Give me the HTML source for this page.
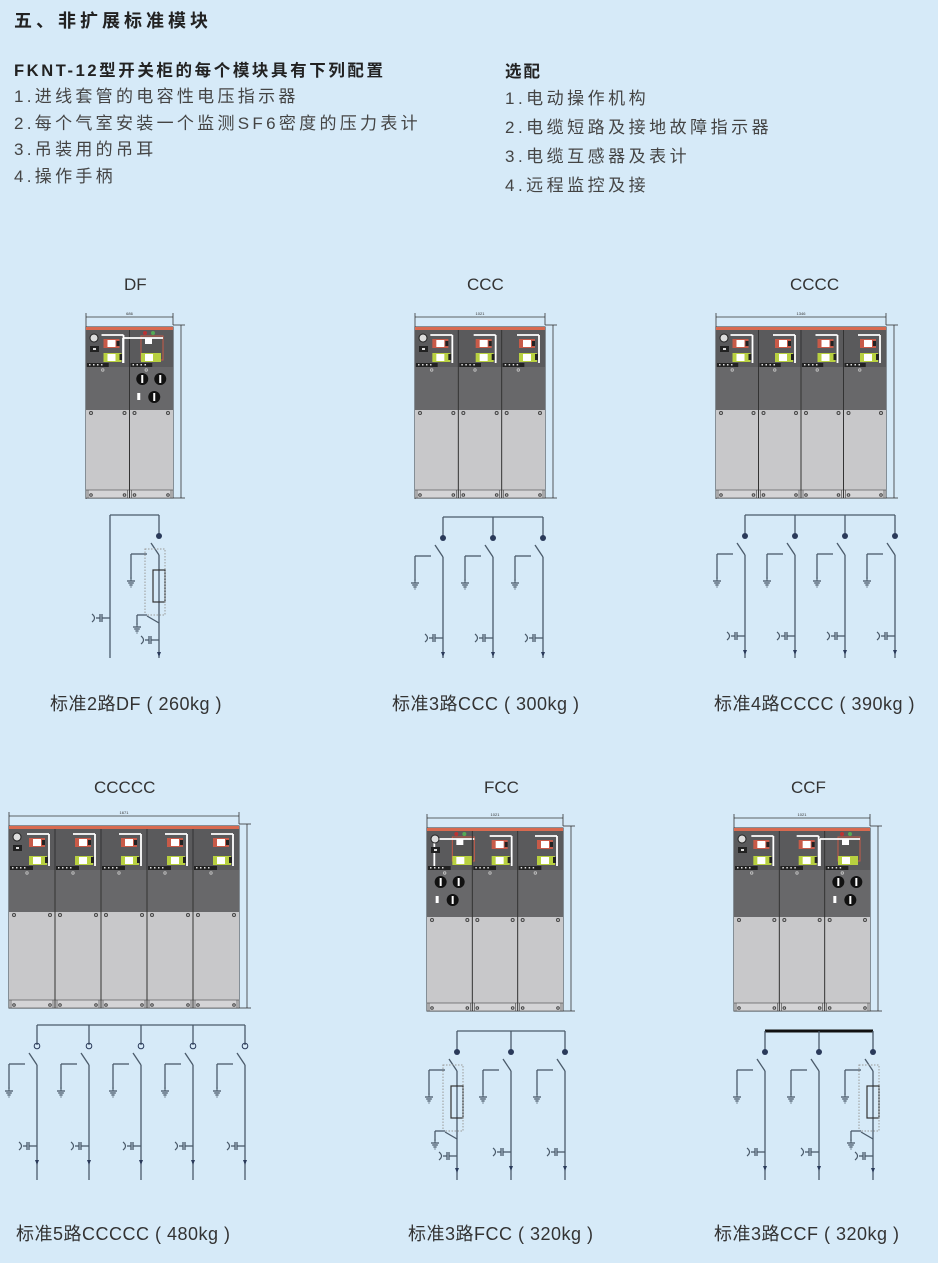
<!DOCTYPE html>
<html><head><meta charset="utf-8">
<style>
body{margin:0;background:#d6eaf8;}
#w{position:relative;width:938px;height:1263px;overflow:hidden;background:#d6eaf8;font-family:"Liberation Sans","Noto Sans CJK SC",sans-serif;color:#333;}
.t{position:absolute;white-space:nowrap;}
.cap{font-size:18px;letter-spacing:0.5px}
svg{position:absolute;left:0;top:0;}
</style></head><body><div id="w">
<svg id="s" width="938" height="1263" viewBox="0 0 938 1263"></svg>
<div class="t" style="left:14px;top:7px;font-size:18px;font-weight:bold;color:#222;letter-spacing:4px">五、非扩展标准模块</div>
<div class="t" style="left:14px;top:57px;font-size:16.5px;font-weight:bold;color:#222;letter-spacing:2.6px">FKNT-12型开关柜的每个模块具有下列配置</div>
<div class="t" style="left:14px;top:84px;font-size:17px;line-height:26.5px;color:#444;letter-spacing:3.3px">1.进线套管的电容性电压指示器<br>2.每个气室安装一个监测SF6密度的压力表计<br>3.吊装用的吊耳<br>4.操作手柄</div>
<div class="t" style="left:505px;top:58px;font-size:16.5px;font-weight:bold;color:#222;letter-spacing:2px">选配</div>
<div class="t" style="left:505px;top:84px;font-size:17px;line-height:29px;color:#444;letter-spacing:3.5px">1.电动操作机构<br>2.电缆短路及接地故障指示器<br>3.电缆互感器及表计<br>4.远程监控及接</div>
<div class="t" style="left:124px;top:275px;font-size:17px">DF</div>
<div class="t" style="left:467px;top:275px;font-size:17px">CCC</div>
<div class="t" style="left:790px;top:275px;font-size:17px">CCCC</div>
<div class="t" style="left:94px;top:778px;font-size:17px">CCCCC</div>
<div class="t" style="left:484px;top:778px;font-size:17px">FCC</div>
<div class="t" style="left:791px;top:778px;font-size:17px">CCF</div>
<div class="t cap" style="left:50px;top:690px">标准2路DF ( 260kg )</div>
<div class="t cap" style="left:392px;top:690px">标准3路CCC ( 300kg )</div>
<div class="t cap" style="left:714px;top:690px">标准4路CCCC ( 390kg )</div>
<div class="t cap" style="left:16px;top:1220px">标准5路CCCCC ( 480kg )</div>
<div class="t cap" style="left:408px;top:1220px">标准3路FCC ( 320kg )</div>
<div class="t cap" style="left:714px;top:1220px">标准3路CCF ( 320kg )</div>
</div>
<script>
var s=document.getElementById('s'),h='';
function R(x,y,w,hh,f,st,sw){h+='<rect x="'+x+'" y="'+y+'" width="'+w+'" height="'+hh+'" fill="'+f+'"'+(st?' stroke="'+st+'" stroke-width="'+(sw||1)+'"':'')+'/>';}
function L(x1,y1,x2,y2,c,w,d){h+='<line x1="'+x1+'" y1="'+y1+'" x2="'+x2+'" y2="'+y2+'" stroke="'+(c||'#4a5a6a')+'" stroke-width="'+(w||1.3)+'"'+(d?' stroke-dasharray="'+d+'"':'')+'/>';}
function C(x,y,r,f,st){h+='<circle cx="'+x+'" cy="'+y+'" r="'+r+'" fill="'+f+'"'+(st?' stroke="'+st+'"':'')+'/>';}
function cab(x,y,w,n,t1,t2,t3,lab,fl,fr){
  var cw=w/n;
  L(x,y-10,x+w,y-10,'#333',0.8);L(x,y-14,x,y+172,'#333',0.8);L(x+w,y-14,x+w,y-2,'#333',0.8);
  L(x+w+8,y-2,x+w+8,y+t3+8,'#333',0.8);L(x+w,y-2,x+w+12,y-2,'#333',0.8);L(x+w,y+t3+8,x+w+12,y+t3+8,'#333',0.8);
  h+='<text x="'+(x+w/2)+'" y="'+(y-12)+'" font-size="4" text-anchor="middle" fill="#333">'+lab+'</text>';
  R(x,y,w,t3+8,'#555','#333',1);
  R(x,y,w,3,'#d86a50');
  R(x,y+3,w,t1-3,'#5a5a5c');
  R(x,y+t1,w,t2-t1,'#68686a');
  R(x,y+t2,w,t3-t2,'#c8c8ca');
  R(x,y+t3,w,8,'#d4d4d6','#444',0.6);
  for(var i=0;i<n;i++){
    var cx=x+i*cw;
    if(i>0)L(cx,y+3,cx,y+t3+8,'#333',1);
    L(cx+2,y+t3,cx+2,y+t3+8,'#444',0.6);L(cx+cw-2,y+t3,cx+cw-2,y+t3+8,'#444',0.6);
    C(cx+5,y+t2+3,1.5,'none','#444');C(cx+cw-5,y+t2+3,1.5,'none','#444');
    C(cx+5,y+t3+5,1.3,'none','#444');C(cx+cw-5,y+t3+5,1.3,'none','#444');
    R(cx+1,y+t1-4,cw*0.5,4,'#222');
    for(var k=0;k<4;k++)R(cx+3+k*4,y+t1-3,1.5,1.5,'#ddd');
    var f=(i==0&&fl)||(i==n-1&&fr);
    if(!f){
      R(cx+cw-26,y+12,16,9,'#c85a48');R(cx+cw-22,y+13,8,7,'#fff');R(cx+cw-13,y+14,3,5,'#222');
      R(cx+cw-26,y+t1-14,18,9,'#b8d040');R(cx+cw-22,y+t1-13,8,7,'#fff');R(cx+cw-10,y+t1-13,3,6,'#222');
      L(cx+cw-28,y+8,cx+cw-6,y+8,'#fff',1.8);L(cx+cw-6,y+8,cx+cw-6,y+t1-4,'#fff',1.8);
    }else{
      var fx=fl?cx+cw-12:cx+cw-24;
      R(fx-8,y+9,22,24,'#555','#c85a48',1);R(fx-4,y+11,7,6,'#fff');
      R(fx-8,y+t1-14,20,9,'#b8d040');R(fx-4,y+t1-13,8,7,'#fff');
      C(fx-4,y+6,2,'#b33');C(fx+4,y+6,2,'#5a5');
      L(fx-26,y+11,fx+14,y+11,'#fff',1.8);L(fx-26,y+11,fx-26,y+t1-4,'#fff',1.8);
      var mx=cx+cw/2;
      C(mx-9,y+t1+12,6,'#111');R(mx-10,y+t1+8,2,8,'#fff');
      C(mx+9,y+t1+12,6,'#111');R(mx+8,y+t1+8,2,8,'#fff');
      C(mx+3,y+t1+30,6,'#111');R(mx+2,y+t1+26,2,8,'#fff');
      R(mx-14,y+t1+26,3,7,'#fff');
    }
    if(i==0){C(cx+8,y+11,4,'#ddd','#222');R(cx+4,y+19,9,6,'#222');R(cx+7,y+21,3,2,'#ddd');}
    C(cx+cw/2-5,y+t1+3,1.2,'none','#bbb');
  }
}
cab(86,327,87,2,40,83,163,'686',false,true);
cab(415,327,130,3,40,83,163,'1021',false,false);
cab(716,327,170,4,40,83,163,'1346',false,false);
cab(9,826,230,5,44,86,174,'1671',false,false);
cab(427,828,136,3,42,89,175,'1021',true,false);
cab(734,828,136,3,42,89,175,'1021',false,true);
function gnd(x,y){L(x,y-4,x,y,'#4a5a6a',1.1);L(x-4,y,x+4,y);L(x-2.8,y+2,x+2.8,y+2);L(x-1.6,y+4,x+1.6,y+4);L(x-0.5,y+6,x+0.5,y+6);}
function cap(x,y){L(x-8,y,x,y);L(x-8,y-4,x-8,y+4);L(x-10,y-4,x-10,y+4);h+='<path d="M'+(x-18)+','+(y-4)+' Q'+(x-13)+','+y+' '+(x-18)+','+(y+4)+'" fill="none" stroke="#4a5a6a" stroke-width="1.2"/>';L(x-14,y,x-10,y);}
function arrow(x,y){h+='<path d="M'+(x-2)+','+(y-3)+' L'+(x+2)+','+(y-3)+' L'+x+','+(y+2)+'Z" fill="#2a3a5a"/>';}
function br(x,B,bot,dot,fuse){
  L(x,B,x,B+20);
  if(dot==1)C(x,B+21,3,'#2a3a5a');else if(dot==2){C(x,B+21,2.8,'none','#2a3a5a');}
  L(x-8,B+28,x,B+40);
  L(x,B+40,x,bot);
  L(x-28,B+39,x-12,B+39);L(x-28,B+39,x-28,B+64);gnd(x-28,B+66);
  if(fuse){R(x-6,B+55,12,32,'none','#333',1.2);h+='<rect x="'+(x-14)+'" y="'+(B+34)+'" width="20" height="66" fill="none" stroke="#999" stroke-dasharray="1.5,1.5"/>';
    L(x-12,B+101,x,B+108);L(x-22,B+100,x-12,B+100);L(x-22,B+100,x-22,B+110);gnd(x-22,B+112);cap(x,B+125);arrow(x,B+140);}
  else{cap(x,B+121);arrow(x,B+138);}
}
L(110,515,159,515);L(110,515,110,658);cap(110,618);
br(159,515,658,1,true);
L(443,517,543,517);[443,493,543].forEach(function(x){br(x,517,658,1)});
L(745,515,895,515);[745,795,845,895].forEach(function(x){br(x,515,658,1)});
L(37,1025,245,1025);[37,89,141,193,245].forEach(function(x){br(x,1025,1180,2)});
L(457,1031,565,1031);br(457,1031,1180,1,true);br(511,1031,1180,1);br(565,1031,1180,1);
L(765,1031,873,1031,'#111',3);br(765,1031,1180,1);br(819,1031,1180,1);br(873,1031,1180,1,true);
s.innerHTML=h;
</script>
</body></html>
